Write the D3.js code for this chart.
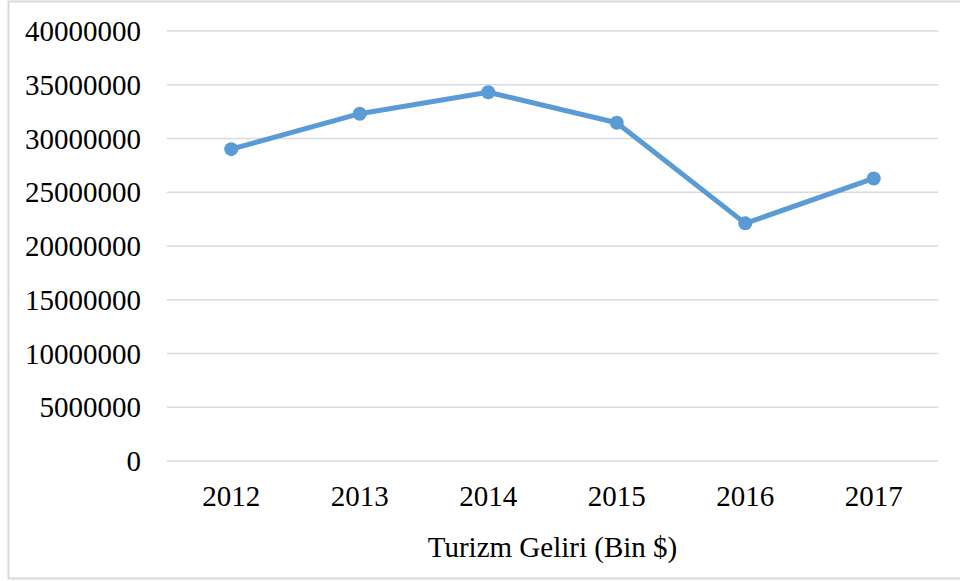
<!DOCTYPE html>
<html lang="tr">
<head>
<meta charset="utf-8">
<title>Turizm Geliri</title>
<style>
  body { margin: 0; background: #fff; }
  svg text { font-family: "Liberation Serif", "Times New Roman", serif; fill: #000; }
</style>
</head>
<body>
<svg id="chart" width="960" height="581"></svg>
<script src="https://cdn.jsdelivr.net/npm/d3@7"></script>
<script>
// data
var years = ["2012", "2013", "2014", "2015", "2016", "2017"];
var gelir = [29007003, 32308991, 34305904, 31464777, 22107440, 26283656];
var yTicks = [0, 5000000, 10000000, 15000000, 20000000, 25000000, 30000000, 35000000, 40000000];
var xTitle = "Turizm Geliri (Bin $)";

var svg = d3.select("#chart");
var margin = {top: 31, right: 22, bottom: 120, left: 167};
var width = 960 - margin.left - margin.right,
    height = 581 - margin.top - margin.bottom;

// outer frame
svg.append("rect")
  .attr("x", 8.5).attr("y", 1.5)
  .attr("width", 960).attr("height", 577)
  .attr("fill", "#fff")
  .attr("stroke", "#d9d9d9")
  .attr("stroke-width", 2);

var g = svg.append("g").attr("transform", "translate(" + margin.left + "," + margin.top + ")");

var x = d3.scaleBand().domain(years).range([0, width]);
var y = d3.scaleLinear().domain([0, 40000000]).range([height, 0]);

// grid
g.selectAll(".grid").data(yTicks).enter().append("line")
  .attr("x1", 0).attr("x2", width)
  .attr("y1", function(d) { return y(d); })
  .attr("y2", function(d) { return y(d); })
  .attr("stroke", "#d9d9d9")
  .attr("stroke-width", 1.5);

// y axis labels
var yAxis = g.append("g")
  .call(d3.axisLeft(y).tickValues(yTicks).tickSize(0).tickPadding(26).tickFormat(d3.format("d")));
yAxis.select(".domain").remove();
yAxis.selectAll("text")
  .style("font-size", "29px")
  .attr("dy", "0.33em");

// x axis labels
var xAxis = g.append("g")
  .attr("transform", "translate(0," + height + ")")
  .call(d3.axisBottom(x).tickSize(0).tickPadding(24));
xAxis.select(".domain").remove();
xAxis.selectAll("text")
  .style("font-size", "29px")
  .attr("dy", "0.71em");

// axis title
g.append("text")
  .attr("x", width / 2)
  .attr("y", height + 96)
  .attr("text-anchor", "middle")
  .style("font-size", "29px")
  .text(xTitle);

// series
var line = d3.line()
  .x(function(d, i) { return x(years[i]) + x.bandwidth() / 2; })
  .y(function(d) { return y(d); });

g.append("path")
  .datum(gelir)
  .attr("d", line)
  .attr("fill", "none")
  .attr("stroke", "#5b9bd5")
  .attr("stroke-width", 5)
  .attr("stroke-linejoin", "round")
  .attr("stroke-linecap", "round");

g.selectAll(".dot").data(gelir).enter().append("circle")
  .attr("cx", function(d, i) { return x(years[i]) + x.bandwidth() / 2; })
  .attr("cy", function(d) { return y(d); })
  .attr("r", 7)
  .attr("fill", "#5b9bd5");
</script>
</body>
</html>
